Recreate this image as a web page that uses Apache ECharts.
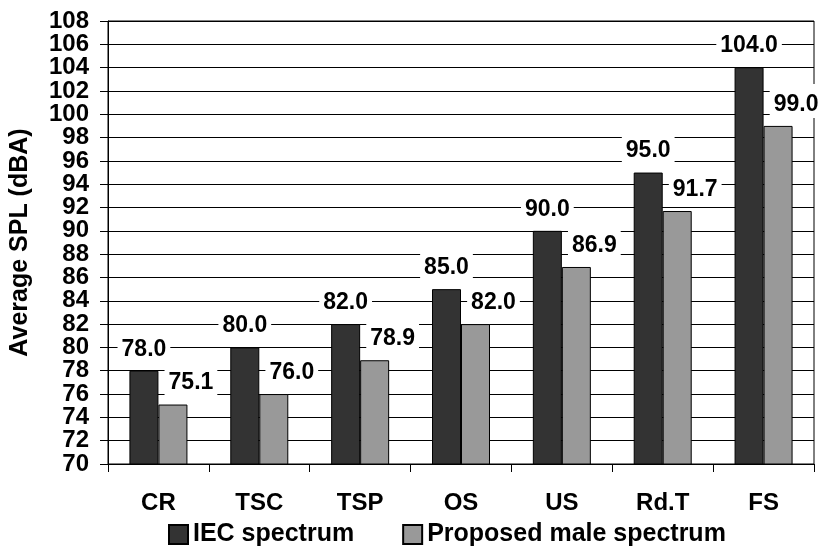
<!DOCTYPE html>
<html>
<head>
<meta charset="utf-8">
<script src="https://cdn.jsdelivr.net/npm/echarts@6/dist/echarts.min.js"></script>
<style>
  html, body { margin: 0; padding: 0; background: #fff; }
  #chart { width: 821px; height: 553px; }
</style>
</head>
<body>
<div id="chart"></div>
<script>
// Noise source categories
const categories = ['CR', 'TSC', 'TSP', 'OS', 'US', 'Rd.T', 'FS'];
// Average SPL (dBA) per spectrum
const iecSpectrum = [78.0, 80.0, 82.0, 85.0, 90.0, 95.0, 104.0];
const maleSpectrum = [75.1, 76.0, 78.9, 82.0, 86.9, 91.7, 99.0];
// Y axis range and step
const yMin = 70;
const yMax = 108;
const yStep = 2;

const FONT = '"Liberation Sans", Arial, sans-serif';

const labelBase = {
  show: true,
  position: 'top',
  distance: 8,
  formatter: p => p.value.toFixed(1),
  fontFamily: FONT,
  fontWeight: 'bold',
  fontSize: 23,
  lineHeight: 23,
  color: '#000',
  backgroundColor: '#fff',
  padding: [9, 4, 2, 4]
};

// The tick labels sit very close together; they are split over two
// overlaid axes (alternate ticks) so none of them gets culled.
const tickIndex = v => Math.round((v - yMin) / yStep);
const yLabelStyle = {
  margin: 19,
  showMinLabel: true,
  showMaxLabel: true,
  hideOverlap: false,
  fontFamily: FONT, fontWeight: 'bold', fontSize: 24, color: '#000'
};

const chart = echarts.init(document.getElementById('chart'), null, { renderer: 'canvas' });

chart.setOption({
  animation: false,
  backgroundColor: '#fff',
  grid: {
    left: 108, right: 7, top: 21, bottom: 89,
    show: true, borderColor: '#000', borderWidth: 1
  },
  legend: {
    left: 168, top: 522, padding: 0,
    itemWidth: 19, itemHeight: 19, itemGap: 48,
    icon: 'rect',
    textStyle: { fontFamily: FONT, fontWeight: 'bold', fontSize: 25, color: '#000' },
    data: ['IEC spectrum', 'Proposed male spectrum']
  },
  xAxis: {
    type: 'category',
    data: categories,
    axisLine: { lineStyle: { color: '#000', width: 1 } },
    axisTick: { show: true, length: 8, lineStyle: { color: '#000' } },
    axisLabel: {
      margin: 27,
      fontFamily: FONT, fontWeight: 'bold', fontSize: 24, color: '#000'
    }
  },
  yAxis: [
    {
      type: 'value',
      position: 'left',
      min: yMin, max: yMax, interval: yStep,
      name: 'Average SPL (dBA)',
      nameLocation: 'middle',
      nameRotate: 90,
      nameGap: 75,
      nameTextStyle: { fontFamily: FONT, fontWeight: 'bold', fontSize: 25, color: '#000' },
      axisLine: { show: true, lineStyle: { color: '#000', width: 1 } },
      axisTick: { show: true, length: 8, lineStyle: { color: '#000' } },
      splitLine: { show: true, lineStyle: { color: '#000', width: 1 } },
      axisLabel: Object.assign({}, yLabelStyle, {
        formatter: v => (tickIndex(v) % 2 === 0 ? String(v) : '')
      })
    },
    {
      type: 'value',
      position: 'left',
      offset: 0,
      min: yMin, max: yMax, interval: yStep,
      axisLine: { show: false },
      axisTick: { show: false },
      splitLine: { show: false },
      axisLabel: Object.assign({}, yLabelStyle, {
        formatter: v => (tickIndex(v) % 2 === 1 ? String(v) : '')
      })
    }
  ],
  series: [
    {
      name: 'IEC spectrum',
      type: 'bar',
      data: iecSpectrum,
      barWidth: 29,
      barGap: '0%',
      itemStyle: { color: '#333333', borderColor: '#000', borderWidth: 1 },
      label: Object.assign({}, labelBase)
    },
    {
      name: 'Proposed male spectrum',
      type: 'bar',
      data: maleSpectrum,
      barWidth: 29,
      barGap: '0%',
      itemStyle: { color: '#999999', borderColor: '#000', borderWidth: 1 },
      label: Object.assign({}, labelBase, { offset: [18, 0] })
    }
  ]
});
</script>
</body>
</html>
